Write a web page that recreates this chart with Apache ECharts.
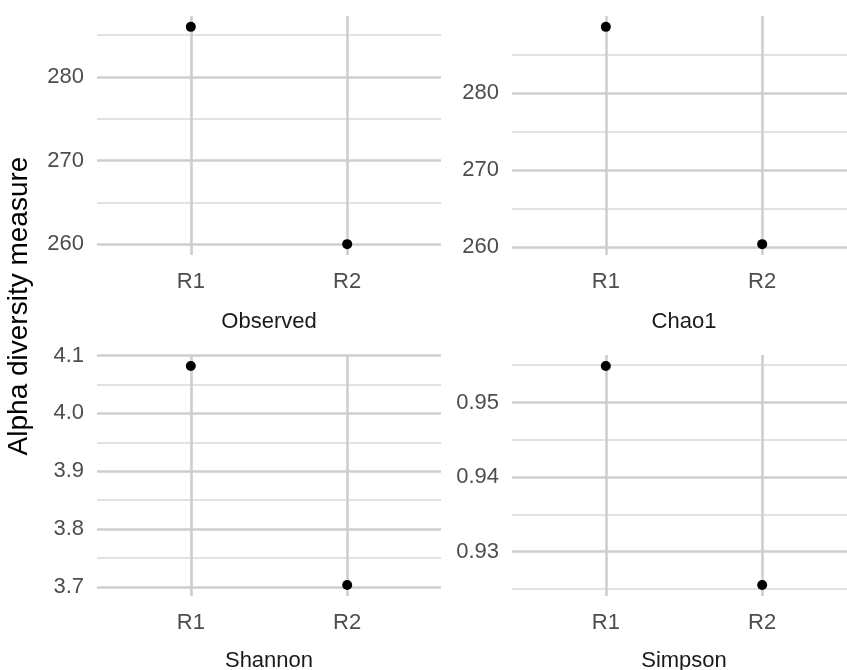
<!DOCTYPE html>
<html>
<head>
<meta charset="utf-8">
<title>Alpha diversity</title>
<script src="https://cdn.jsdelivr.net/npm/echarts@6/dist/echarts.min.js"></script>
<style>
  html, body { margin: 0; padding: 0; background: #ffffff; }
  #chart { width: 847px; height: 670px; }
</style>
</head>
<body>
<div id="chart"></div>
<script>
// Samples along the x axis of every panel
const categories = ['R1', 'R2'];

// Diversity index values per sample
const observed = [286, 260];
const chao1 = [288.6, 260.4];
const shannon = [4.082, 3.703];
const simpson = [0.9549, 0.9255];

// Panel titles
const measures = ['Observed', 'Chao1', 'Shannon', 'Simpson'];

// Labelled (major) and unlabelled (minor) y ticks per panel
const majorObserved = [260, 270, 280];
const minorObserved = [265, 275, 285];
const majorChao1 = [260, 270, 280];
const minorChao1 = [265, 275, 285];
const majorShannon = [3.7, 3.8, 3.9, 4.0, 4.1];
const minorShannon = [3.75, 3.85, 3.95, 4.05];
const majorSimpson = [0.93, 0.94, 0.95];
const minorSimpson = [0.925, 0.935, 0.945, 0.955];
const tickDecimals = [0, 0, 1, 2];

const panelValues = [observed, chao1, shannon, simpson];
const panelMajor = [majorObserved, majorChao1, majorShannon, majorSimpson];
const panelMinor = [minorObserved, minorChao1, minorShannon, minorSimpson];

// Panel boxes (left, top, width, height); the right column runs past the canvas edge
const boxes = [
  { left: 97, top: 16, width: 344, height: 239 },
  { left: 512, top: 16, width: 344, height: 239 },
  { left: 97, top: 355, width: 344, height: 241 },
  { left: 512, top: 355, width: 344, height: 241 }
];
const titleGaps = [56, 56, 54, 54];

const FONT = '"Liberation Sans", Arial, Helvetica, sans-serif';
const GRID_MAJOR = '#cecece';
const GRID_MINOR = '#d8d8d8';

const grids = [], xAxes = [], yAxes = [], series = [];

panelValues.forEach((vals, i) => {
  grids.push(Object.assign({ containLabel: false, outerBoundsMode: 'none' }, boxes[i]));

  // continuous range padded by 5% of the data span
  const lo = Math.min(...vals), hi = Math.max(...vals);
  const pad = (hi - lo) * 0.05;
  const yMin = lo - pad, yMax = hi + pad;

  // discrete positions 1..n padded by 0.6 on each side
  const xPos = categories.map((c, k) => k + 1);
  xAxes.push({
    type: 'value',
    gridIndex: i,
    min: 1 - 0.6,
    max: categories.length + 0.6,
    name: measures[i],
    nameLocation: 'middle',
    nameGap: titleGaps[i],
    nameTextStyle: { color: '#1a1a1a', fontSize: 22, fontFamily: FONT },
    axisLine: { show: false },
    axisTick: { show: false, customValues: xPos },
    axisLabel: {
      customValues: xPos,
      margin: 16,
      color: '#4d4d4d',
      fontSize: 22,
      fontFamily: FONT,
      formatter: v => categories[Math.round(v) - 1]
    },
    splitLine: { show: true, lineStyle: { color: GRID_MAJOR, width: 2.6 } }
  });

  // labelled axis with major grid lines
  yAxes.push({
    type: 'value',
    gridIndex: i,
    position: 'left',
    min: yMin,
    max: yMax,
    axisLine: { show: false },
    axisTick: { show: false, customValues: panelMajor[i] },
    axisLabel: {
      customValues: panelMajor[i],
      margin: 13,
      color: '#4d4d4d',
      fontSize: 22,
      fontFamily: FONT,
      formatter: v => Number(v).toFixed(tickDecimals[i])
    },
    splitLine: { show: true, lineStyle: { color: GRID_MAJOR, width: 2.6 } },
    z: 1
  });

  // unlabelled axis carrying the minor grid lines
  yAxes.push({
    type: 'value',
    gridIndex: i,
    position: 'left',
    min: yMin,
    max: yMax,
    axisLine: { show: false },
    axisTick: { show: false, customValues: panelMinor[i] },
    axisLabel: { show: false, customValues: panelMinor[i] },
    splitLine: { show: true, lineStyle: { color: GRID_MINOR, width: 1.5 } },
    z: 0
  });

  series.push({
    type: 'scatter',
    xAxisIndex: i,
    yAxisIndex: i * 2,
    symbol: 'circle',
    symbolSize: 10,
    itemStyle: { color: '#000000', opacity: 1 },
    data: vals.map((v, k) => [xPos[k], v]),
    z: 5
  });
});

const chart = echarts.init(document.getElementById('chart'), null, { renderer: 'canvas' });
chart.setOption({
  backgroundColor: '#ffffff',
  animation: false,
  grid: grids,
  xAxis: xAxes,
  yAxis: yAxes,
  series: series,
  graphic: [{
    type: 'text',
    x: 19,
    y: 306,
    rotation: Math.PI / 2,
    style: {
      text: 'Alpha diversity measure',
      fill: '#000000',
      font: '28px ' + FONT,
      align: 'center',
      verticalAlign: 'middle'
    }
  }]
});
</script>
</body>
</html>
